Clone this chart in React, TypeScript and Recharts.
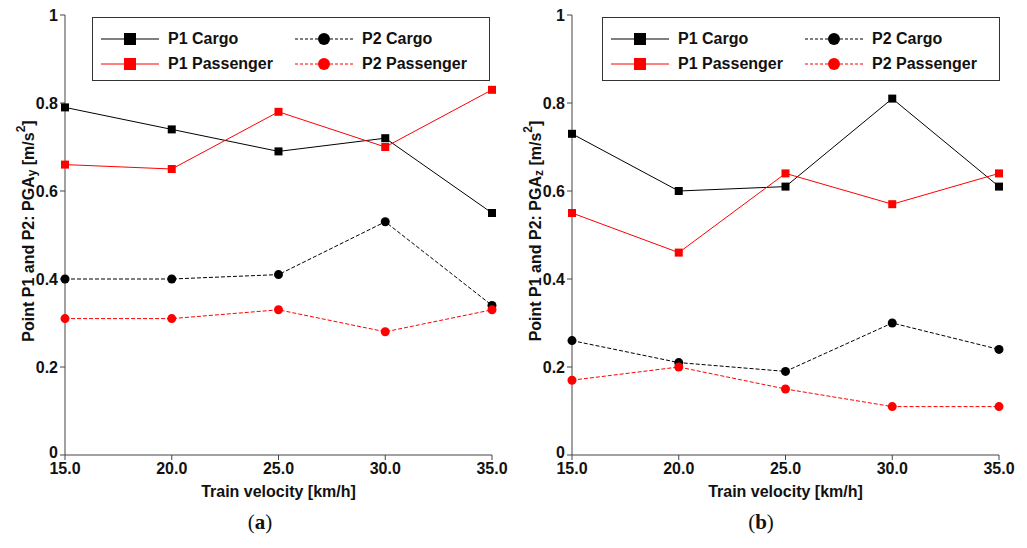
import React from "react";
import { LineChart, Line, XAxis, YAxis, Legend } from "recharts";

const velocity = [15, 20, 25, 30, 35];
const yTicks = [0, 0.2, 0.4, 0.6, 0.8, 1];

// panel (a) – PGA y
const aP1Cargo = [0.79, 0.74, 0.69, 0.72, 0.55];
const aP1Passenger = [0.66, 0.65, 0.78, 0.7, 0.83];
const aP2Cargo = [0.4, 0.4, 0.41, 0.53, 0.34];
const aP2Passenger = [0.31, 0.31, 0.33, 0.28, 0.33];

// panel (b) – PGA z
const bP1Cargo = [0.73, 0.6, 0.61, 0.81, 0.61];
const bP1Passenger = [0.55, 0.46, 0.64, 0.57, 0.64];
const bP2Cargo = [0.26, 0.21, 0.19, 0.3, 0.24];
const bP2Passenger = [0.17, 0.2, 0.15, 0.11, 0.11];

const FONT = "'Liberation Sans', Arial, sans-serif";
const AXIS = "#444";
const RED = "#ff0000";

type Series = { p1c: number[]; p1p: number[]; p2c: number[]; p2p: number[] };

const buildRows = (s: Series) =>
  velocity.map((v, i) => ({ v, p1c: s.p1c[i], p1p: s.p1p[i], p2c: s.p2c[i], p2p: s.p2p[i] }));

const square = (color: string, size: number) => (props: any) => (
  <rect
    key={`sq-${props.index}`}
    x={props.cx - size / 2}
    y={props.cy - size / 2}
    width={size}
    height={size}
    fill={color}
  />
);

const legendItems = [
  { name: "P1 Cargo", color: "#000", dashed: false, shape: "square" },
  { name: "P2 Cargo", color: "#000", dashed: true, shape: "circle" },
  { name: "P1 Passenger", color: RED, dashed: false, shape: "square" },
  { name: "P2 Passenger", color: RED, dashed: true, shape: "circle" },
];

function LegendBox() {
  return (
    <div
      style={{
        width: 398,
        height: 64,
        boxSizing: "border-box",
        border: "1px solid #333",
        background: "#fff",
        display: "grid",
        gridTemplateColumns: "194px 1fr",
        gridAutoRows: "25px",
        paddingTop: 8,
        fontFamily: FONT,
        fontWeight: "bold",
        fontSize: 16,
        color: "#111",
      }}
    >
      {legendItems.map((it) => (
        <div key={it.name} style={{ display: "flex", alignItems: "center", paddingLeft: 8 }}>
          <svg width={58} height={16} style={{ marginRight: 9 }}>
            <line
              x1={0}
              x2={58}
              y1={8}
              y2={8}
              stroke={it.color}
              strokeWidth={1}
              strokeDasharray={it.dashed ? "3 2" : undefined}
            />
            {it.shape === "square" ? (
              <rect x={23} y={2} width={12} height={12} fill={it.color} />
            ) : (
              <circle cx={29} cy={8} r={6} fill={it.color} />
            )}
          </svg>
          <span>{it.name}</span>
        </div>
      ))}
    </div>
  );
}

function YLabel({ viewBox, sub }: any) {
  const x = viewBox.x + 28;
  const y = viewBox.y + viewBox.height / 2 - 4;
  return (
    <text
      x={x}
      y={y}
      transform={`rotate(-90, ${x}, ${y})`}
      textAnchor="middle"
      dominantBaseline="central"
      fontFamily={FONT}
      fontWeight="bold"
      fontSize={16}
      fill="#111"
    >
      <tspan>Point P1 and P2: PGA</tspan>
      <tspan fontSize={12} dy={4}>{sub}</tspan>
      <tspan dy={-4}> [m/s</tspan>
      <tspan fontSize={12} dy={-7}>2</tspan>
      <tspan dy={7}>]</tspan>
    </text>
  );
}

// y tick text; the "0" sits a little higher so it clears the 15.0 label
function YTick({ x, y, payload }: any) {
  return (
    <text
      x={x}
      y={payload.value === 0 ? y - 3 : y}
      textAnchor="end"
      dominantBaseline="central"
      fontFamily={FONT}
      fontWeight="bold"
      fontSize={16}
      fill="#111"
    >
      {String(payload.value)}
    </text>
  );
}

function Panel({ left, series, sub, tag }: { left: number; series: Series; sub: string; tag: string }) {
  const rows = buildRows(series);
  const tick = { fontFamily: FONT, fontWeight: "bold", fontSize: 16, fill: "#111" } as any;
  return (
    <div style={{ position: "absolute", left, top: 0, width: 520, height: 548 }}>
      <LineChart width={520} height={500} data={rows} margin={{ top: 15, right: 28, bottom: 0, left: 0 }}>
        <XAxis
          dataKey="v"
          type="number"
          domain={[15, 35]}
          ticks={velocity}
          tickFormatter={(v: number) => v.toFixed(1)}
          tick={tick}
          tickSize={5}
          tickMargin={3}
          stroke={AXIS}
          height={45}
          label={{
            value: "Train velocity [km/h]",
            position: "insideBottom",
            offset: 3,
            style: { fontFamily: FONT, fontWeight: "bold", fontSize: 16, fill: "#111" },
          }}
        />
        <XAxis xAxisId="top" orientation="top" dataKey="v" type="number" domain={[15, 35]} tick={false} tickLine={false} height={0} stroke={AXIS} />
        <YAxis
          type="number"
          domain={[0, 1]}
          ticks={yTicks}
          tick={<YTick />}
          tickSize={5}
          tickMargin={2}
          stroke={AXIS}
          width={65}
          label={{ content: (p: any) => <YLabel {...p} sub={sub} /> }}
        />
        <YAxis yAxisId="right" orientation="right" domain={[0, 1]} tick={false} tickLine={false} width={0} stroke={AXIS} />
        <Legend
          layout="horizontal"
          verticalAlign="middle"
          align="center"
          wrapperStyle={{ top: 17, left: tag === "a" ? 92 : 95, width: 398, height: 64 }}
          content={() => <LegendBox />}
        />
        <Line dataKey="p1c" stroke="#000" strokeWidth={1} dot={square("#000", 8)} isAnimationActive={false} />
        <Line dataKey="p1p" stroke={RED} strokeWidth={1} dot={square(RED, 8)} isAnimationActive={false} />
        <Line dataKey="p2c" stroke="#000" strokeWidth={1} strokeDasharray="4 2" dot={{ r: 4.5, fill: "#000", stroke: "none" }} isAnimationActive={false} />
        <Line dataKey="p2p" stroke={RED} strokeWidth={1} strokeDasharray="4 2" dot={{ r: 4.5, fill: RED, stroke: "none" }} isAnimationActive={false} />
      </LineChart>
      <div
        style={{
          position: "absolute",
          top: 510,
          left: 0,
          width: 500,
          textAlign: "center",
          fontFamily: "'Liberation Serif', 'DejaVu Serif', serif",
          fontSize: 21,
          color: "#111",
          paddingLeft: tag === "a" ? 20 : 8,
          boxSizing: "border-box",
        }}
      >
        (<b>{tag}</b>)
      </div>
    </div>
  );
}

export default function App() {
  return (
    <div style={{ position: "absolute", left: 0, top: 0, width: 1027, height: 548, background: "#fff" }}>
      <Panel left={0} series={{ p1c: aP1Cargo, p1p: aP1Passenger, p2c: aP2Cargo, p2p: aP2Passenger }} sub="y" tag="a" />
      <Panel left={507} series={{ p1c: bP1Cargo, p1p: bP1Passenger, p2c: bP2Cargo, p2p: bP2Passenger }} sub="z" tag="b" />
    </div>
  );
}
